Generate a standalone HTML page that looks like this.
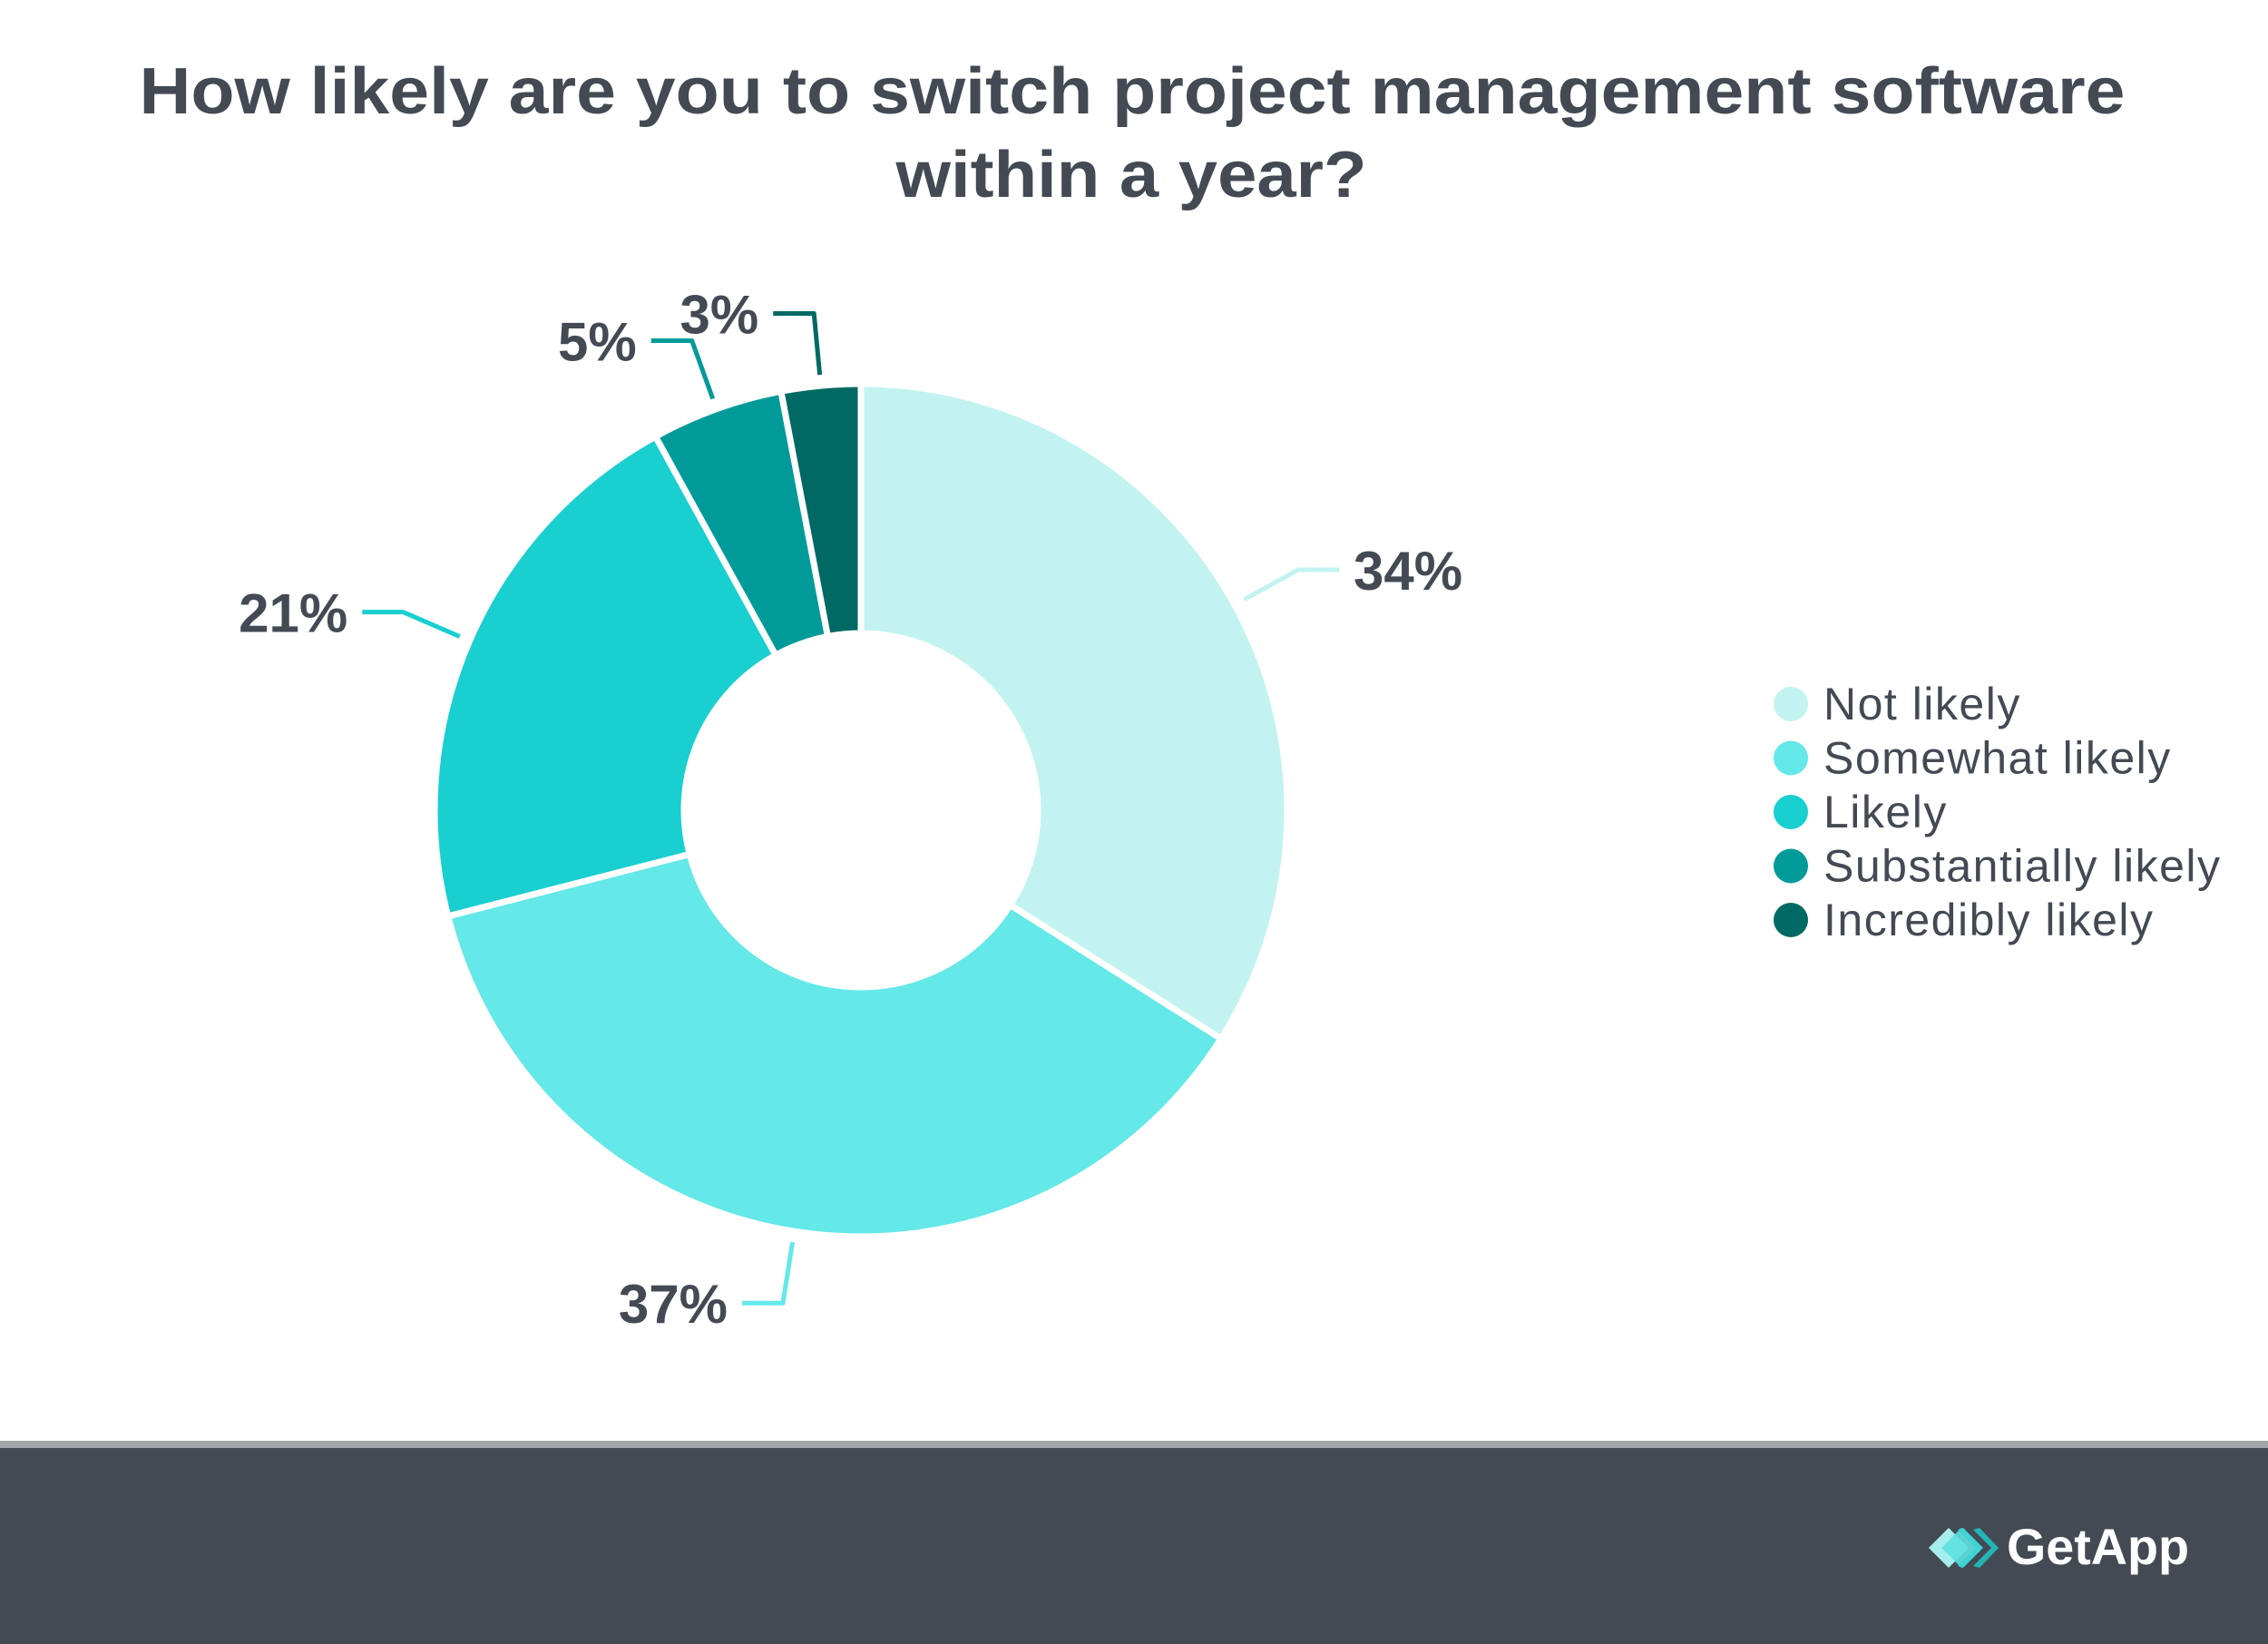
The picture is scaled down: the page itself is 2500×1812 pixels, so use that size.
<!DOCTYPE html>
<html><head><meta charset="utf-8"><style>
html,body{margin:0;padding:0;background:#fff}
svg{display:block}
</style></head><body>
<svg id="chart" width="2500" height="1812" viewBox="0 0 2500 1812" xmlns="http://www.w3.org/2000/svg">
<text x="1248" y="125" text-anchor="middle" font-family="Liberation Sans, sans-serif" font-weight="bold" font-size="72" fill="#434a54" textLength="2189" lengthAdjust="spacingAndGlyphs">How likely are you to switch project management software</text>
<text x="1247" y="217" text-anchor="middle" font-family="Liberation Sans, sans-serif" font-weight="bold" font-size="72" fill="#434a54" textLength="519" lengthAdjust="spacingAndGlyphs">within a year?</text>
<g id="slices"></g>
<g id="leaders"></g>
<g id="labels"></g>
<g id="legend"></g>
<rect x="0" y="1588" width="2500" height="8" fill="#a2a5a8"/>
<rect x="0" y="1596" width="2500" height="216" fill="#434a53"/>
<g>
<polygon points="2126,1706 2148,1684 2170,1706 2148,1728" fill="#a6eeee"/>
<polygon points="2140,1706 2162,1684 2184,1706 2162,1728" fill="#5fe0e0" opacity="0.9"/>
<polygon points="2158,1686 2164,1684 2186,1706 2164,1728 2158,1726 2178,1706" fill="#3fd3d3"/>
<polygon points="2175,1686 2182,1684 2203,1706 2182,1728 2175,1726 2195,1706" fill="#21b5b3"/>
<text x="2212" y="1724" font-family="Liberation Sans, sans-serif" font-weight="bold" font-size="56" fill="#ffffff" textLength="201" lengthAdjust="spacingAndGlyphs">GetApp</text>
</g>
</svg>
<script>
const categories = ["Not likely","Somewhat likely","Likely","Substantially likely","Incredibly likely"];
const values = [34,37,21,5,3];
const labels = ["34%","37%","21%","5%","3%"];
const colors = ["#c2f3f1","#64e8e8","#19cfcf","#009b99","#006964"];
const NS = "http://www.w3.org/2000/svg";
const cx = 949, cy = 893, R = 470, r = 195;
const total = values.reduce((a,b)=>a+b,0);
function pt(ang, rad){ return [cx + rad*Math.sin(ang), cy - rad*Math.cos(ang)]; }
function angleScale(v){ return v/total*2*Math.PI; }
const gS = document.getElementById('slices');
const gL = document.getElementById('leaders');
const gT = document.getElementById('labels');
const gG = document.getElementById('legend');
let acc = 0;
values.forEach((v,i)=>{
  const a0 = angleScale(acc), a1 = angleScale(acc+v);
  acc += v;
  const large = (a1-a0) > Math.PI ? 1 : 0;
  const [x0,y0]=pt(a0,R),[x1,y1]=pt(a1,R),[x2,y2]=pt(a1,r),[x3,y3]=pt(a0,r);
  const p = document.createElementNS(NS,'path');
  p.setAttribute('d',`M${x0},${y0}A${R},${R} 0 ${large} 1 ${x1},${y1}L${x2},${y2}A${r},${r} 0 ${large} 0 ${x3},${y3}Z`);
  p.setAttribute('fill',colors[i]);
  p.setAttribute('stroke','#fff');
  p.setAttribute('stroke-width','7');
  p.setAttribute('stroke-linejoin','round');
  
  
  gS.appendChild(p);
  const am = (a0+a1)/2;
  const [lx1,ly1]=pt(am,R+12),[lx2,ly2]=pt(am,R+80);
  const dir = Math.sin(am) >= 0 ? 1 : -1;
  const lx3 = lx2 + dir*45;
  const ln = document.createElementNS(NS,'path');
  ln.setAttribute('d',`M${lx1},${ly1}L${lx2},${ly2}L${lx3},${ly2}`);
  ln.setAttribute('fill','none');
  ln.setAttribute('stroke',colors[i]);
  ln.setAttribute('stroke-width','5');
  ln.setAttribute('stroke-linejoin','round');
  
  
  gL.appendChild(ln);
  const t = document.createElementNS(NS,'text');
  t.setAttribute('x', lx3 + dir*16);
  t.setAttribute('y', ly2 + 22);
  t.setAttribute('text-anchor', dir>0 ? 'start' : 'end');
  t.setAttribute('font-family','Liberation Sans, sans-serif');
  t.setAttribute('font-weight','bold');
  t.setAttribute('font-size','60');
  t.setAttribute('fill','#434a54');
  t.textContent = labels[i];
  
  
  gT.appendChild(t);
  const ly = 776 + i*59.5;
  const c = document.createElementNS(NS,'circle');
  c.setAttribute('cx',1974); c.setAttribute('cy',ly); c.setAttribute('r',19);
  c.setAttribute('fill',colors[i]);
  
  
  gG.appendChild(c);
  const lt = document.createElementNS(NS,'text');
  lt.setAttribute('x',2010); lt.setAttribute('y',ly+17);
  lt.setAttribute('font-family','Liberation Sans, sans-serif');
  lt.setAttribute('font-size','50');
  lt.setAttribute('letter-spacing','1.5');
  lt.setAttribute('fill','#434a54');
  lt.textContent = categories[i];
  
  
  gG.appendChild(lt);
});
</script>
</body></html>
